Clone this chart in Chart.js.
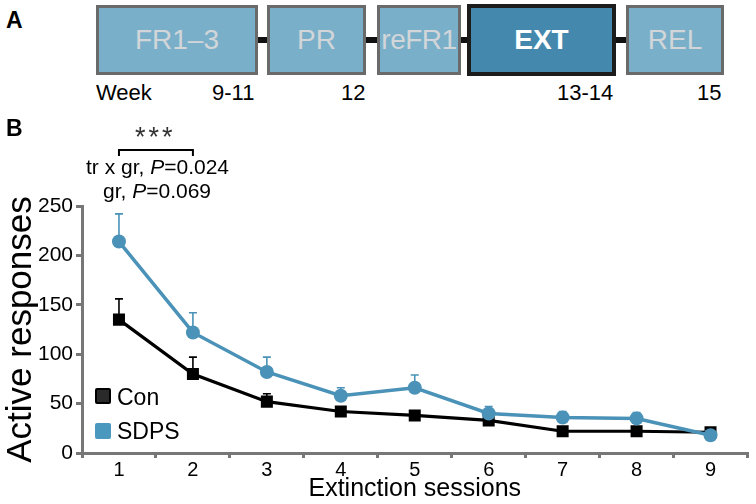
<!DOCTYPE html>
<html>
<head>
<script src="https://cdn.jsdelivr.net/npm/chart.js@4.4.1/dist/chart.umd.min.js"></script>
<style>
body { margin:0; width:756px; height:504px; overflow:hidden; background:#fff;
  font-family:"Liberation Sans", Arial, sans-serif; position:relative; }
.abs { position:absolute; white-space:nowrap; }
.box { position:absolute; top:5px; height:64px; background:#7aafc9; border:3px solid #6a6a6a;
  color:#d2d6d9; font-size:28px; text-align:center; line-height:64px; box-sizing:content-box; }
.link { position:absolute; top:37px; height:6px; background:#111; }
.panel { font-weight:bold; font-size:23px; }
.wk { font-size:22px; top:80px; }
.leg { font-size:23px; }
.sw { position:absolute; border-radius:2px; }
#wrap { position:absolute; left:0; top:0; width:756px; height:504px; }
</style>
</head>
<body>
<!-- panel A : timeline -->
<div class="abs panel" style="left:6px;top:7px;">A</div>
<div class="link" style="left:255px;width:15px;"></div>
<div class="link" style="left:364px;width:16px;"></div>
<div class="link" style="left:459px;width:12px;"></div>
<div class="link" style="left:613px;width:16px;"></div>
<div class="box" style="left:96px;width:156px;">FR1–3</div>
<div class="box" style="left:267px;width:93px;">PR</div>
<div class="box" style="left:377px;width:78px;letter-spacing:-0.5px;">reFR1</div>
<div class="box" style="left:467px;top:4px;height:64px;width:141px;background:#4489ad;border:4px solid #1c1c1c;color:#fff;font-weight:bold;">EXT</div>
<div class="box" style="left:626px;width:92px;">REL</div>
<div class="abs wk" style="left:96px;">Week</div>
<div class="abs wk" style="left:212px;">9-11</div>
<div class="abs wk" style="left:341px;">12</div>
<div class="abs wk" style="left:557px;">13-14</div>
<div class="abs wk" style="left:697px;">15</div>

<!-- panel B -->
<div id="wrap"><canvas id="chart"></canvas></div>
<div class="abs panel" style="left:6px;top:115px;">B</div>
<div class="abs" style="left:135px;top:122px;font-size:27px;color:#333;letter-spacing:3px;">***</div>
<div class="abs" style="left:86px;top:155px;font-size:21px;">tr x gr, <i>P</i>=0.024</div>
<div class="abs" style="left:103px;top:179px;font-size:21px;">gr, <i>P</i>=0.069</div>
<div class="sw" style="left:95px;top:388px;background:#2a2a2a;border:2px solid #000;width:12px;height:12px;"></div>
<div class="abs leg" style="left:117px;top:384px;">Con</div>
<div class="sw" style="left:95px;top:423px;background:#4b98be;width:16px;height:16px;"></div>
<div class="abs leg" style="left:117px;top:418px;">SDPS</div>

<script>
// sessions on the x axis
var sessions = ["1","2","3","4","5","6","7","8","9"];
// mean active responses
var conMean  = [135, 80, 52, 42, 38, 33, 22, 22, 21];
var sdpsMean = [214, 122, 82, 58, 66, 40, 36, 35, 18];
// upper end of error bars (mean + SEM)
var conErr  = [156, 97, 60, 45, 40, 35, 24, 24, 22];
var sdpsErr = [242, 142, 97, 66, 79, 47, 42, 41, 19];
var yTicks = [0, 50, 100, 150, 200, 250];

var blue = "#4a92b7";
var axisGray = "#777777";
var fontFam = '"Liberation Sans", Arial, sans-serif';

// error bars, drawn under the markers
var errorBars = {
  id: "errorBars",
  beforeDatasetsDraw: function(chart) {
    var ctx = chart.ctx, x = chart.scales.x, y = chart.scales.y;
    var sets = [[conMean, conErr, "#000"], [sdpsMean, sdpsErr, blue]];
    ctx.save();
    ctx.lineWidth = 1.6;
    sets.forEach(function(s) {
      ctx.strokeStyle = s[2];
      for (var i = 0; i < sessions.length; i++) {
        var px = x.getPixelForValue(i);
        var y0 = y.getPixelForValue(s[0][i]);
        var y1 = y.getPixelForValue(s[1][i]);
        if (y0 - y1 < 3) continue;
        ctx.beginPath();
        ctx.moveTo(px, y0); ctx.lineTo(px, y1);
        ctx.moveTo(px - 4, y1); ctx.lineTo(px + 4, y1);
        ctx.stroke();
      }
    });
    ctx.restore();
  }
};

// significance bracket between session 1 and 2
var bracket = {
  id: "bracket",
  afterDraw: function(chart) {
    var ctx = chart.ctx, x = chart.scales.x;
    var a = x.getPixelForValue(0), b = x.getPixelForValue(1);
    ctx.save();
    ctx.strokeStyle = "#000";
    ctx.lineWidth = 2;
    ctx.beginPath();
    ctx.moveTo(a, 156); ctx.lineTo(a, 150); ctx.lineTo(b, 150); ctx.lineTo(b, 156);
    ctx.stroke();
    ctx.restore();
  }
};

var chart = new Chart(document.getElementById("chart"), {
  type: "line",
  data: {
    labels: sessions,
    datasets: [
      {
        label: "SDPS",
        data: sdpsMean,
        borderColor: blue,
        backgroundColor: blue,
        borderWidth: 3.5,
        pointStyle: "circle",
        pointRadius: 7,
        pointBorderWidth: 0,
        order: 1
      },
      {
        label: "Con",
        data: conMean,
        borderColor: "#000",
        backgroundColor: "#000",
        borderWidth: 3.2,
        pointStyle: "rect",
        pointRadius: 8.5,
        pointBorderWidth: 0,
        order: 2
      }
    ]
  },
  options: {
    responsive: true,
    maintainAspectRatio: false,
    animation: false,
    layout: { padding: { top: 206, right: 5, left: 0, bottom: 0 } },
    plugins: { legend: { display: false }, tooltip: { enabled: false } },
    scales: {
      x: {
        type: "category",
        offset: true,
        border: { color: axisGray, width: 3 },
        grid: { offset: true, drawOnChartArea: false, drawTicks: true, tickLength: 5, color: axisGray, lineWidth: 3 },
        ticks: { color: "#000", font: { family: fontFam, size: 20 }, padding: 0, maxRotation: 0 },
        title: { display: true, text: "Extinction sessions", color: "#000", font: { family: fontFam, size: 25 }, padding: { top: -3, bottom: 0 } },
        afterFit: function(s) { s.height = 51; }
      },
      y: {
        min: 0, max: 250,
        afterBuildTicks: function(s) { s.ticks = yTicks.map(function(v) { return { value: v }; }); },
        border: { color: axisGray, width: 3 },
        grid: { drawOnChartArea: false, drawTicks: true, tickLength: 6, color: axisGray, lineWidth: 3 },
        ticks: { color: "#000", font: { family: fontFam, size: 21 }, padding: 3 },
        title: { display: true, text: "Active responses", color: "#000", font: { family: fontFam, size: 35 }, padding: { top: 0, bottom: 0 } },
        afterFit: function(s) { s.width = 82; }
      }
    }
  },
  plugins: [errorBars, bracket]
});
</script>
</body>
</html>
